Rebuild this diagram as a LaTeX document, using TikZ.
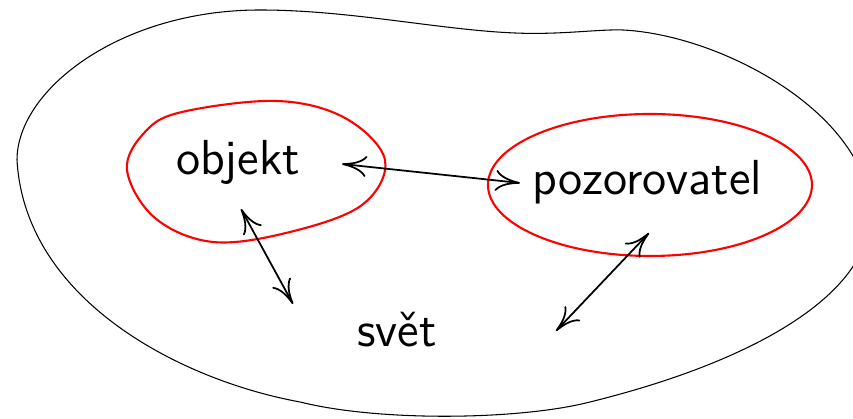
\documentclass[tikz,border=0pt]{standalone}
\usetikzlibrary{arrows.meta}
\begin{document}
\begin{tikzpicture}[x=0.01cm, y=-0.01cm,
    word/.style ={font=\sffamily\fontsize{14}{17}\selectfont, inner sep=0pt, anchor=base},
    region/.style ={draw=red, line width=0.6pt},
    relation/.style ={{To[length=7pt,width=6pt]}-{To[length=7pt,width=6pt]}, line width=0.5pt}]
   \useasboundingbox (0,0) rectangle (853,419);
   \clip (0,0) rectangle (853,419);

   % svet
   \draw[line width=0.3pt] (17,160) .. controls (17,90) and (120,10) .. (260,10)
     .. controls (350,10) and (440,30) .. (515,33)
     .. controls (560,35) and (600,29) .. (623,30)
     .. controls (720,35) and (860,110) .. (870,205)
     .. controls (878,290) and (760,360) .. (590,402)
     .. controls (520,420) and (380,422) .. (300,402)
     .. controls (180,380) and (25,300) .. cycle;

   % objekt a pozorovatel
   \draw[region] plot[smooth cycle, tension=0.6] coordinates {
     (182,112) (277,101) (345,118) (385,160) (362,205) (290,232)
     (213,242) (155,218) (127,170) (145,132)};
   \draw[region] (650,185) ellipse [x radius=162, y radius=71];

   \node[word] (objekt)      at (238,175) {objekt};
   \node[word] (pozorovatel) at (647,195) {pozorovatel};
   \node[word] (svet)        at (397,347) {svět};

   \coordinate (objR)  at (342,164);
   \coordinate (pozL)  at (520,183);
   \coordinate (objB)  at (241,209);
   \coordinate (svetL) at (293,304);
   \coordinate (pozB)  at (649,233);
   \coordinate (svetR) at (556,331);

   \draw[relation] (objR) to (pozL);
   \draw[relation] (objB) to (svetL);
   \draw[relation] (pozB) to (svetR);
\end{tikzpicture}
\end{document}
